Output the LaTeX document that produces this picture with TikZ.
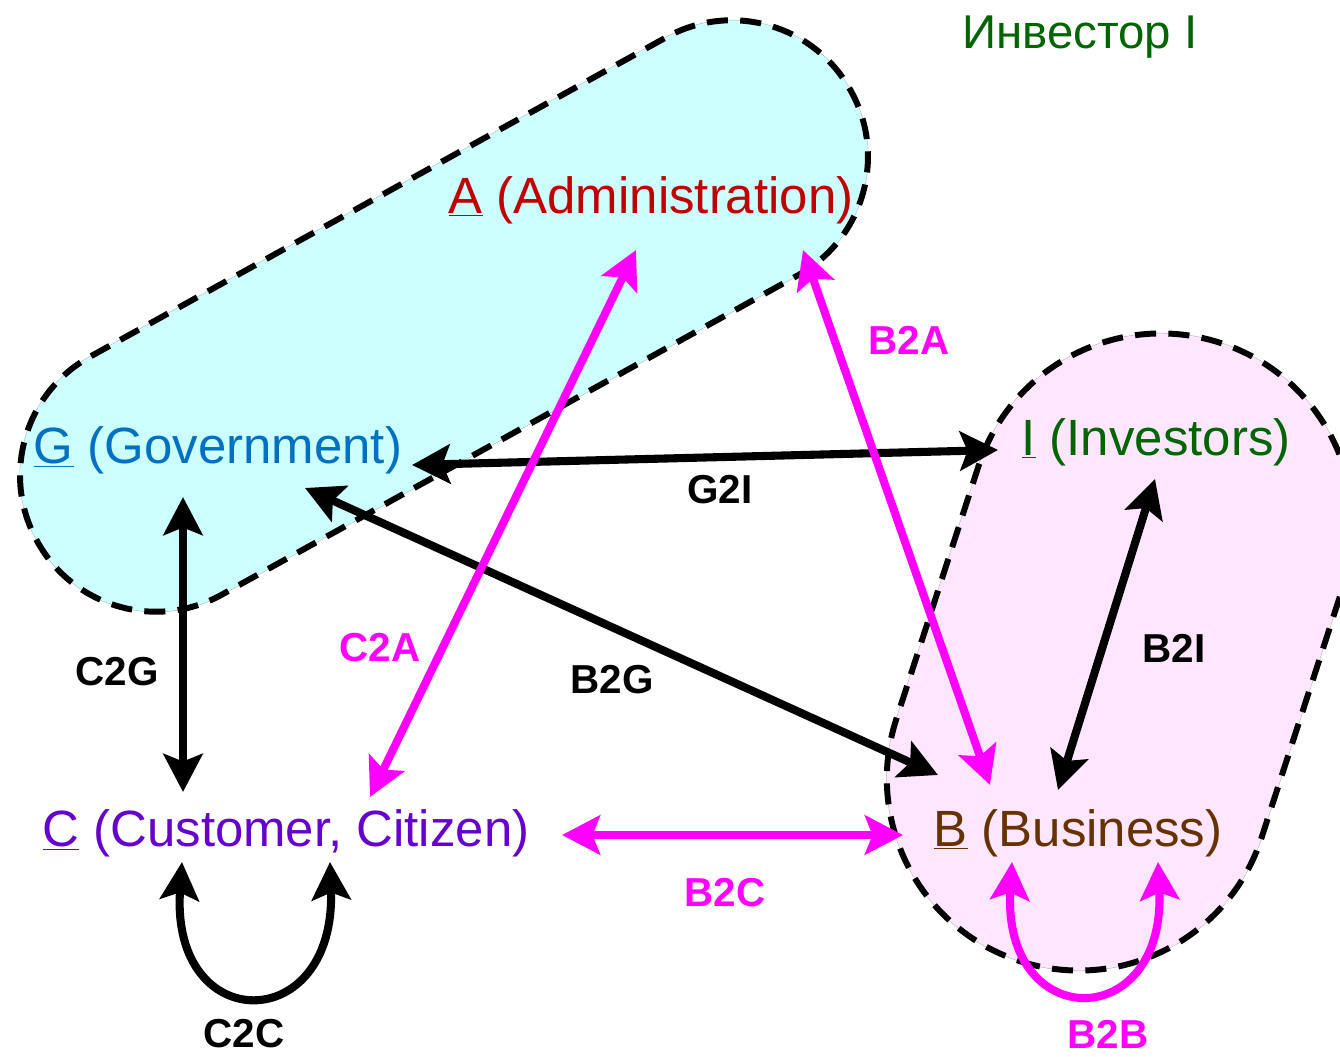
\documentclass[tikz,border=0pt]{standalone}
\usepackage{fontspec}
\setmainfont{Liberation Sans}
\usepackage{tikz}
\usetikzlibrary{arrows.meta, positioning}
\definecolor{admred}{RGB}{192,0,0}
\definecolor{govblue}{RGB}{0,112,192}
\definecolor{invgreen}{RGB}{0,100,0}
\definecolor{custpurple}{RGB}{102,0,204}
\definecolor{busbrown}{RGB}{102,51,0}
\definecolor{govcyan}{RGB}{204,255,255}
\definecolor{buspink}{RGB}{255,230,255}
\definecolor{linkmag}{RGB}{255,0,255}

\begin{document}
\begin{tikzpicture}[x=0.02cm, y=-0.02cm,
    zone/.style={draw=black, line width=3.4pt, dash pattern=on 12pt off 7pt,
      preaction={draw=gray!60, line width=0.6pt, solid}},
    actor/.style={inner sep=0pt, font=\fontsize{29}{34}\selectfont},
    tag/.style={inner sep=0pt, font=\fontsize{23}{27}\selectfont\bfseries},
    link/.style={line width=4.6pt, {Stealth[length=0.76cm,width=0.78cm,inset=0.15cm]}-{Stealth[length=0.76cm,width=0.78cm,inset=0.15cm]}}]
    \useasboundingbox (0,0) rectangle (1340,1057);
    \clip (0,0) rectangle (1340,1057);

    \path[zone, fill=govcyan, rotate around={29:(444,316)}, rounded corners=2.71cm] (-21,180) rectangle (909,452);
    \path[zone, fill=buspink, rotate around={72:(1120,652)}, rounded corners=3.84cm] (795,460) rectangle (1445,844);

    \node[actor, text=admred] (admin) at (651,200) {\underline{A} (Administration)};
    \node[actor, text=govblue] (gov) at (218,450) {\underline{G} (Government)};
    \node[actor, text=invgreen] (inv) at (1156,442) {\underline{I} (Investors)};
    \node[actor, text=custpurple] (cust) at (286,833) {\underline{C} (Customer, Citizen)};
    \node[actor, text=busbrown] (bus) at (1078,833) {\underline{B} (Business)};
    \node[inner sep=0pt, font=\fontsize{27}{32}\selectfont, text=invgreen] (invru) at (1080,37) {Инвестор I};

    \draw[link] ([shift={(-35,47)}]gov.center) -- ([shift={(-103,-41)}]cust.center);
    \draw[link] ([shift={(194,15)}]gov.center) -- ([shift={(-158,8)}]inv.center);
    \draw[link] ([shift={(87,38)}]gov.center) -- ([shift={(-140,-58)}]bus.center);
    \draw[link] ([shift={(-1,37)}]inv.center) -- ([shift={(-20,-43)}]bus.center);
    \draw[link, draw=linkmag] ([shift={(-15,50)}]admin.center) -- ([shift={(84,-36)}]cust.center);
    \draw[link, draw=linkmag] ([shift={(152,50)}]admin.center) -- ([shift={(-88,-48)}]bus.center);
    \draw[link, draw=linkmag] ([shift={(276,2)}]cust.center) -- ([shift={(-175,2)}]bus.center);
    \draw[link] ([shift={(-104,29)}]cust.center) .. controls +(-12,175) and +(6,175) .. ([shift={(44,29)}]cust.center);
    \draw[link, draw=linkmag] ([shift={(-66,29)}]bus.center) .. controls +(-10,172) and +(8,172) .. ([shift={(80,29)}]bus.center);

    \node[tag, text=linkmag] (b2a) at (909,340) {B2A};
    \node[tag] (g2i) at (720,490) {G2I};
    \node[tag] (b2i) at (1174,648) {B2I};
    \node[tag, text=linkmag] (c2a) at (380,648) {C2A};
    \node[tag] (b2g) at (612,680) {B2G};
    \node[tag] (c2g) at (117,672) {C2G};
    \node[tag, text=linkmag] (b2c) at (725,893) {B2C};
    \node[tag] (c2c) at (244,1034) {C2C};
    \node[tag, text=linkmag] (b2b) at (1108,1034) {B2B};
\end{tikzpicture}
\end{document}
